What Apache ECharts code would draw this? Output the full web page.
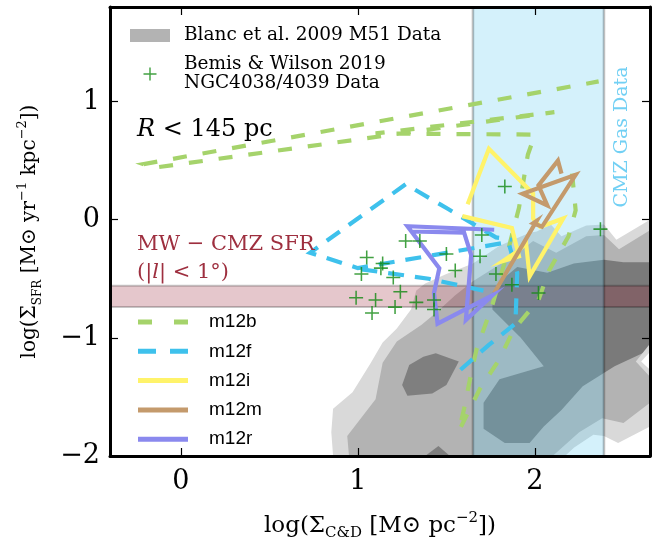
<!DOCTYPE html>
<html>
<head>
<meta charset="utf-8">
<script src="https://cdn.jsdelivr.net/npm/echarts@6/dist/echarts.min.js"></script>
<style>
  html, body { margin: 0; padding: 0; background: #fff; }
  #chart { width: 660px; height: 540px; }
</style>
</head>
<body>
<div id="chart"></div>
<script>
// axis ticks
const xTicks = [0, 1, 2]
const yTicks = [-2, -1, 0, 1]

// shaded ranges
const cmzGasRange = [1.65, 2.39]
const mwSfrRange = [-0.74, -0.56]

// Blanc et al. 2009 M51 contours (outer -> inner)
const blancLevel1 = [[0.86, -2.0], [0.85, -1.80], [0.86, -1.60], [0.97, -1.46], [1.07, -1.22], [1.14, -1.04],
  [1.22, -0.92], [1.30, -0.76], [1.33, -0.60], [1.38, -0.54], [1.50, -0.46], [1.65, -0.37], [1.80, -0.22],
  [1.97, -0.11], [2.01, -0.10], [2.09, -0.04], [2.15, -0.14], [2.29, -0.05], [2.39, -0.04], [2.46, -0.17],
  [2.65, 0.0], [2.65, -1.75], [2.47, -1.89], [2.39, -1.83], [2.33, -1.82], [2.22, -1.93], [2.17, -2.0]]
const blancLevel2 = [[0.95, -2.0], [0.94, -1.83], [1.10, -1.52], [1.14, -1.21], [1.22, -1.03], [1.36, -0.89],
  [1.44, -0.79], [1.55, -0.64], [1.65, -0.52], [1.80, -0.38], [1.92, -0.26], [1.99, -0.18], [2.12, -0.28],
  [2.29, -0.14], [2.39, -0.13], [2.475, -0.25], [2.65, -0.09], [2.65, -1.55], [2.50, -1.72], [2.38, -1.68],
  [2.25, -1.80], [2.10, -2.0]]
const blancLevel3 = [[1.76, -0.62], [1.82, -0.50], [1.90, -0.40], [2.07, -0.45], [2.22, -0.37], [2.39, -0.34],
  [2.50, -0.36], [2.65, -0.36], [2.65, -1.10], [2.45, -1.24], [2.27, -1.41], [2.15, -1.61], [2.05, -1.75],
  [1.97, -1.89], [1.83, -1.89], [1.71, -1.77], [1.71, -1.55], [1.80, -1.35], [2.05, -1.24], [1.92, -1.00],
  [1.76, -0.76]]
const blancIsland = [[1.25, -1.40], [1.29, -1.23], [1.37, -1.16], [1.44, -1.13], [1.57, -1.20], [1.50, -1.40],
  [1.42, -1.47], [1.28, -1.49]]
const blancBottom = [[1.38, -2.0], [1.455, -1.915], [1.52, -2.0]]
const blancNotch = [[2.65, -1.05], [2.57, -1.20], [2.65, -1.33]]
const blancHole = [[2.65, -1.12], [2.60, -1.20], [2.65, -1.27]]

// Bemis & Wilson 2019 NGC4038/4039
const bemisPoints = [[1.83, 0.28], [2.37, -0.08], [1.70, -0.13], [1.27, -0.18], [1.35, -0.18], [1.50, -0.29],
  [1.69, -0.31], [1.05, -0.32], [1.14, -0.37], [1.13, -0.41], [1.02, -0.46], [1.55, -0.43], [1.20, -0.49],
  [1.78, -0.46], [1.24, -0.61], [1.87, -0.55], [2.02, -0.62], [0.99, -0.66], [1.10, -0.68], [1.33, -0.70],
  [1.43, -0.68], [1.21, -0.74], [1.43, -0.76], [1.08, -0.79]]

// simulation tracks
const m12b = [[2.21, 0.39], [2.23, 0.08], [2.19, -0.14], [2.08, -0.43], [2.02, -0.68], [1.88, -0.93],
  [1.80, -1.18], [1.69, -1.43], [1.57, -1.79], [1.60, -1.60], [1.64, -1.30], [1.67, -1.10], [1.76, -0.72],
  [1.85, -0.25], [1.91, 0.10], [1.96, 0.55], [2.00, 0.72], [1.10, 0.73], [2.11, 0.91], [-0.15, 0.44],
  [-0.21, 0.47], [2.36, 1.17]]
const m12fA = [[1.58, -1.27], [1.74, -1.06], [1.89, -0.88], [1.90, -0.45], [1.85, -0.19], [1.00, -0.41],
  [0.73, -0.28], [1.27, 0.30], [1.51, 0.09], [1.78, -0.15], [1.87, -0.17]]
const m12fB = [[1.02, -0.42], [1.40, -0.50], [1.77, -0.62]]
const m12i = [[1.62, 0.13], [1.74, 0.60], [1.99, 0.22], [1.99, 0.01], [2.03, -0.06], [2.16, 0.01],
  [1.97, -0.48], [1.95, -0.20], [1.90, -0.27], [1.82, -0.35], [1.91, -0.31], [1.87, -0.07], [1.59, 0.03]]
const m12m = [[1.77, -0.62], [2.01, -0.01], [1.99, -0.03], [2.04, -0.06], [2.23, 0.38], [1.93, 0.22],
  [2.07, 0.12], [2.02, 0.29], [2.13, 0.50], [2.15, 0.39]]
const m12r = [[1.30, -0.10], [1.60, -0.11], [1.64, -0.30], [1.61, -0.85], [1.76, -0.64], [1.45, -0.88],
  [1.43, -0.62], [1.46, -0.41], [1.28, -0.055], [1.77, -0.085]]

const BLANC = 'Blanc et al. 2009 M51 Data'
const BEMIS = 'Bemis & Wilson 2019\nNGC4038/4039 Data'
const serif = 'DejaVu Serif'
const sans = 'Liberation Sans'

const contourShapes = [
  { points: blancLevel1, fill: '#d9d9d9' },
  { points: blancLevel2, fill: '#b3b3b3' },
  { points: blancLevel3, fill: '#7a7a7a' },
  { points: blancIsland, fill: '#7f7f7f' },
  { points: blancBottom, fill: '#7f7f7f' },
  { points: blancNotch, fill: '#d9d9d9' },
  { points: blancHole, fill: '#ffffff' }
]

const plusPath = 'path://M4.45,0H5.55V4.45H10V5.55H5.55V10H4.45V5.55H0V4.45H4.45Z'
// legend handles, drawn in a 50 x 5 box
const dashIconB = 'path://M0,0h14v5h-14zM36,0h14v5h-14z'
const dashIconF = 'path://M0,0h18v5h-18zM32,0h18v5h-18z'

const minus = v => (v < 0 ? '\u2212' + Math.abs(v) : String(v))

function lineSeries(name, data, color, type) {
  return {
    name,
    type: 'line',
    data,
    symbol: 'none',
    z: 5,
    lineStyle: { color, width: 4.2, type, cap: 'butt', join: 'miter' },
    itemStyle: { color },
    emphasis: { disabled: true }
  }
}

const chart = echarts.init(document.getElementById('chart'))

const axisCommon = {
  type: 'value',
  z: 10,
  splitLine: { show: false },
  axisLine: { show: true, onZero: false, lineStyle: { color: '#000', width: 3 } },
  axisTick: { show: true, inside: true, length: 8, lineStyle: { color: '#000', width: 1.2 } }
}

chart.setOption({
  animation: false,
  grid: { left: 110, right: 10, top: 7, bottom: 84, outerBoundsMode: 'none', containLabel: false },
  xAxis: [
    Object.assign({}, axisCommon, {
      min: -0.4, max: 2.65, position: 'bottom',
      axisTick: Object.assign({}, axisCommon.axisTick, { customValues: xTicks }),
      axisLabel: { customValues: xTicks, formatter: minus, fontFamily: serif, fontSize: 27, color: '#000', margin: 12 },
      name: 'log(\u03a3{s|C&D} [M\u2299 pc{p|\u22122}])',
      nameLocation: 'middle',
      nameGap: 55,
      nameTextStyle: {
        fontFamily: serif, fontSize: 23, color: '#000', lineHeight: 30,
        rich: {
          s: { fontFamily: serif, fontSize: 15, lineHeight: 15, verticalAlign: 'bottom' },
          p: { fontFamily: serif, fontSize: 15, lineHeight: 15, verticalAlign: 'top' }
        }
      }
    }),
    Object.assign({}, axisCommon, {
      min: -0.4, max: 2.65, position: 'top',
      axisTick: Object.assign({}, axisCommon.axisTick, { customValues: xTicks }),
      axisLabel: { show: false }
    })
  ],
  yAxis: [
    Object.assign({}, axisCommon, {
      min: -2, max: 1.8, position: 'left',
      axisTick: Object.assign({}, axisCommon.axisTick, { customValues: yTicks }),
      axisLabel: { customValues: yTicks, formatter: minus, fontFamily: serif, fontSize: 27, color: '#000', margin: 10 },
      name: 'log(\u03a3{s|SFR} [M\u2299 yr{p|\u22121} kpc{p|\u22122}])',
      nameLocation: 'middle',
      nameRotate: 90,
      nameGap: 66,
      nameTextStyle: {
        fontFamily: serif, fontSize: 20, color: '#000', lineHeight: 28,
        rich: {
          s: { fontFamily: serif, fontSize: 12, lineHeight: 14, verticalAlign: 'bottom' },
          p: { fontFamily: serif, fontSize: 13, lineHeight: 14, verticalAlign: 'top' }
        }
      }
    }),
    Object.assign({}, axisCommon, {
      min: -2, max: 1.8, position: 'right',
      axisTick: Object.assign({}, axisCommon.axisTick, { customValues: yTicks }),
      axisLabel: { show: false }
    })
  ],
  legend: [
    {
      data: [{ name: BLANC, icon: 'rect' }, { name: BEMIS }],
      orient: 'vertical',
      left: 125,
      top: 21,
      itemWidth: 40,
      itemHeight: 13,
      itemGap: 10,
      selectedMode: false,
      textStyle: { fontFamily: serif, fontSize: 18.5, color: '#000', padding: [0, 0, 0, 9], lineHeight: 19 }
    },
    {
      data: [
        { name: 'm12b', icon: dashIconB },
        { name: 'm12f', icon: dashIconF },
        { name: 'm12i', icon: 'rect' },
        { name: 'm12m', icon: 'rect' },
        { name: 'm12r', icon: 'rect' }
      ],
      orient: 'vertical',
      left: 133,
      top: 307,
      itemWidth: 50,
      itemHeight: 5,
      itemGap: 9.3,
      selectedMode: false,
      textStyle: { fontFamily: sans, fontSize: 19, color: '#000', padding: [0, 0, 0, 16], lineHeight: 20 }
    }
  ],
  graphic: [
    {
      type: 'text', left: 137, top: 118, z: 20,
      style: {
        text: '{i|R} < 145 pc', fontFamily: serif, fontSize: 24, fill: '#000',
        rich: { i: { fontFamily: serif, fontStyle: 'italic', fontSize: 24 } }
      }
    },
    {
      type: 'text', left: 137, top: 234, z: 20,
      style: { text: 'MW \u2212 CMZ SFR', fontFamily: serif, fontSize: 21, fill: '#9e2f3f' }
    },
    {
      type: 'text', left: 137, top: 262, z: 20,
      style: {
        text: '(|{i|l}| < 1\u00b0)', fontFamily: serif, fontSize: 21, fill: '#9e2f3f',
        rich: { i: { fontFamily: serif, fontStyle: 'italic', fontSize: 21, fill: '#9e2f3f' } }
      }
    },
    {
      type: 'text', x: 622, y: 137, rotation: Math.PI / 2, z: 20,
      style: {
        text: 'CMZ Gas Data', fontFamily: serif, fontSize: 19, fill: '#72d0f4',
        textAlign: 'center', textVerticalAlign: 'middle'
      }
    }
  ],
  series: [
    {
      name: BLANC,
      type: 'custom',
      clip: true,
      z: 1,
      itemStyle: { color: '#b3b3b3' },
      data: contourShapes.map((s, i) => [i]),
      renderItem: (params, api) => {
        const shape = contourShapes[params.dataIndex]
        return {
          type: 'polygon',
          shape: { points: shape.points.map(p => api.coord(p)) },
          style: { fill: shape.fill }
        }
      }
    },
    {
      type: 'custom',
      clip: true,
      z: 2,
      data: [mwSfrRange],
      renderItem: (params, api) => {
        const cs = params.coordSys
        const y0 = api.coord([0, api.value(0)])[1]
        const y1 = api.coord([0, api.value(1)])[1]
        const edge = { stroke: 'rgba(0,0,0,0.22)', lineWidth: 2 }
        return {
          type: 'group',
          children: [
            { type: 'rect', shape: { x: cs.x, y: y1, width: cs.width, height: y0 - y1 }, style: { fill: 'rgba(150,30,50,0.25)' } },
            { type: 'line', shape: { x1: cs.x, y1: y0, x2: cs.x + cs.width, y2: y0 }, style: edge },
            { type: 'line', shape: { x1: cs.x, y1: y1, x2: cs.x + cs.width, y2: y1 }, style: edge }
          ]
        }
      }
    },
    {
      type: 'custom',
      clip: true,
      z: 3,
      data: [cmzGasRange],
      renderItem: (params, api) => {
        const cs = params.coordSys
        const x0 = api.coord([api.value(0), 0])[0]
        const x1 = api.coord([api.value(1), 0])[0]
        const edge = { stroke: 'rgba(0,0,0,0.25)', lineWidth: 2.5 }
        return {
          type: 'group',
          children: [
            { type: 'rect', shape: { x: x0, y: cs.y, width: x1 - x0, height: cs.height }, style: { fill: 'rgba(100,205,240,0.28)' } },
            { type: 'line', shape: { x1: x0, y1: cs.y, x2: x0, y2: cs.y + cs.height }, style: edge },
            { type: 'line', shape: { x1: x1, y1: cs.y, x2: x1, y2: cs.y + cs.height }, style: edge }
          ]
        }
      }
    },
    lineSeries('m12b', m12b, '#a5d36b', [14, 16]),
    lineSeries('m12f', m12fA, '#3ec1ec', [16, 11]),
    lineSeries('m12f', m12fB, '#3ec1ec', [16, 11]),
    lineSeries('m12i', m12i, '#fff36a', 'solid'),
    lineSeries('m12m', m12m, '#c49a6c', 'solid'),
    lineSeries('m12r', m12r, '#8a89ee', 'solid'),
    {
      name: BEMIS,
      type: 'scatter',
      data: bemisPoints,
      symbol: plusPath,
      symbolSize: 14,
      symbolKeepAspect: true,
      z: 6,
      itemStyle: { color: '#138a13' },
      emphasis: { disabled: true }
    }
  ]
})
</script>
</body>
</html>
